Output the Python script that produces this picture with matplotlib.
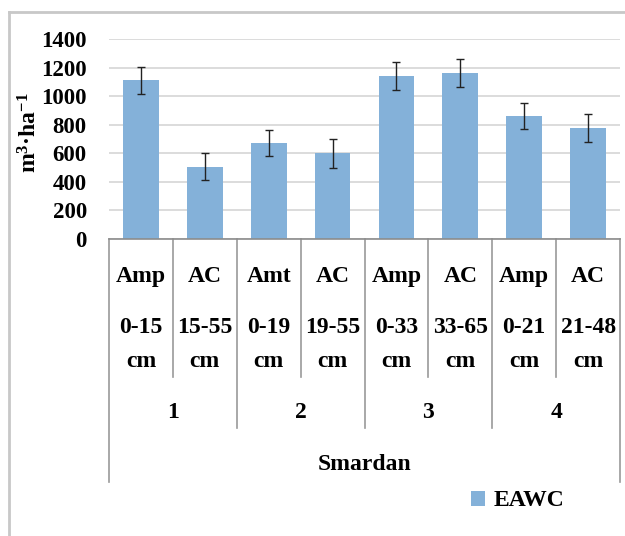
import matplotlib
matplotlib.use("Agg")
import matplotlib.pyplot as plt
from matplotlib.lines import Line2D

plt.rcParams['font.family'] = ['Liberation Serif', 'DejaVu Serif']
plt.rcParams['font.weight'] = 'bold'
plt.rcParams['mathtext.fontset'] = 'custom'
plt.rcParams['mathtext.rm'] = 'Liberation Serif:bold'
plt.rcParams['mathtext.bf'] = 'Liberation Serif:bold'
plt.rcParams['mathtext.default'] = 'bf'

# data
horizons = ['Amp', 'AC', 'Amt', 'AC', 'Amp', 'AC', 'Amp', 'AC']
depths = ['0-15', '15-55', '0-19', '19-55', '0-33', '33-65', '0-21', '21-48']
profiles = ['1', '2', '3', '4']
site = 'Smardan'
eawc = [1110, 505, 670, 600, 1140, 1165, 860, 775]
eawc_err = [95, 95, 92, 100, 97, 98, 90, 97]

W, H = 625, 536
fig = plt.figure(figsize=(W / 100, H / 100), dpi=100)
# plot area in pixels: x 109..620, y 39..239
ax = fig.add_axes([109 / W, 1 - 239 / H, 511 / W, 200 / H])

x = list(range(len(eawc)))
ax.bar(x, eawc, width=0.56, color='#84b1d9', label='EAWC', zorder=2,
       yerr=eawc_err, error_kw=dict(ecolor='#222222', elinewidth=1, capsize=3, capthick=1))

ax.set_xlim(-0.5, len(eawc) - 0.5)
ax.set_ylim(0, 1400)
ax.set_yticks(range(0, 1401, 200))
ax.yaxis.grid(True, color='#d9d9d9', linewidth=1.3, zorder=0)
ax.set_axisbelow(True)
for s in ['top', 'right', 'left']:
    ax.spines[s].set_visible(False)
ax.spines['bottom'].set_color('#8c8c8c')
ax.spines['bottom'].set_linewidth(1.2)
ax.tick_params(axis='y', length=0, pad=16, labelsize=16.5)
ax.set_xticks([])
for lab in ax.get_yticklabels():
    lab.set_fontweight('bold')

ax.set_ylabel(r'm$^{3}$·ha$^{-1}$', fontsize=17, fontweight='bold')
ax.yaxis.set_label_coords(-0.133, 0.53)

# multi-level category axis below the plot
tr = ax.get_xaxis_transform()
fs = 17
for i in x:
    ax.text(i, -0.19, horizons[i], transform=tr, ha='center', va='center', fontsize=fs, fontweight='bold')
    ax.text(i, -0.445, depths[i], transform=tr, ha='center', va='center', fontsize=fs, fontweight='bold')
    ax.text(i, -0.615, 'cm', transform=tr, ha='center', va='center', fontsize=fs, fontweight='bold')
for k in range(len(profiles)):
    ax.text(2 * k + 0.5, -0.87, profiles[k], transform=tr, ha='center', va='center', fontsize=fs, fontweight='bold')
ax.text(3.5, -1.13, site, transform=tr, ha='center', va='center', fontsize=fs, fontweight='bold')

for b in range(1, len(eawc)):
    depth = -0.945 if b % 2 == 0 else -0.69
    ax.add_line(Line2D([b - 0.5, b - 0.5], [0, depth], transform=tr, color='#9a9a9a',
                       linewidth=1.2, clip_on=False))
for b in [-0.5, len(eawc) - 0.5]:
    ax.add_line(Line2D([b, b], [0, -1.215], transform=tr, color='#9a9a9a',
                       linewidth=1.2, clip_on=False))

fig.legend(loc='center left', bbox_to_anchor=(471 / W, 1 - 501 / H), frameon=False,
           handlelength=0.6, handleheight=0.6, handletextpad=0.35, borderpad=0,
           borderaxespad=0, prop=dict(size=17, weight='bold'))

# frame of the picture (top and left only visible)
fig.add_artist(Line2D([9 / W, 1], [1 - 12 / H, 1 - 12 / H], color='#c8c8c8', linewidth=2))
fig.add_artist(Line2D([9 / W, 9 / W], [0, 1 - 12 / H], color='#c8c8c8', linewidth=2))

fig.savefig('out.png', dpi=100)
